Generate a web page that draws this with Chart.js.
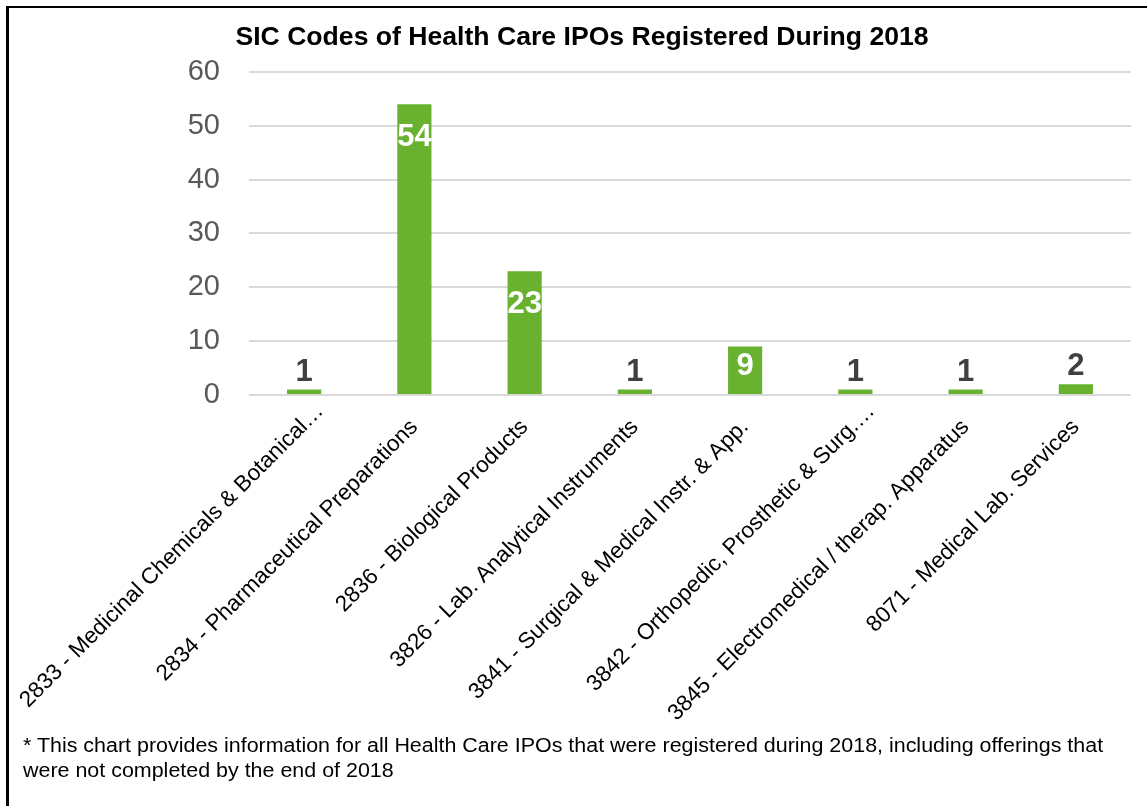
<!DOCTYPE html>
<html>
<head>
<meta charset="utf-8">
<script src="https://cdn.jsdelivr.net/npm/chart.js@4/dist/chart.umd.min.js"></script>
<style>
html,body{margin:0;padding:0;background:#fff;width:1147px;height:806px;overflow:hidden;}
#wrap{position:relative;width:1147px;height:806px;}
#frame{position:absolute;left:6px;top:6px;right:-10px;bottom:-10px;border-top:2px solid #000;border-left:3px solid #000;}
canvas{position:absolute;left:0;top:0;}
#note{position:absolute;left:23px;top:733px;font-family:"Liberation Sans",Arial,sans-serif;font-size:20px;line-height:25px;color:#000;white-space:nowrap;transform:scaleX(1.072);transform-origin:0 0;}
</style>
</head>
<body>
<div id="wrap">
  <div id="frame"></div>
  <canvas id="c" width="1147" height="806"></canvas>
  <div id="note">* This chart provides information for all Health Care IPOs that were registered during 2018, including offerings that<br>were not completed by the end of 2018</div>
</div>
<script>
const chartTitle = 'SIC Codes of Health Care IPOs Registered During 2018';
const categories = [
  '2833 - Medicinal Chemicals & Botanical\u2026',
  '2834 - Pharmaceutical Preparations',
  '2836 - Biological Products',
  '3826 - Lab. Analytical Instruments',
  '3841 - Surgical & Medical Instr. & App.',
  '3842 - Orthopedic, Prosthetic & Surg.\u2026',
  '3845 - Electromedical / therap. Apparatus',
  '8071 - Medical Lab. Services'
];
const ipoCounts = [1, 54, 23, 1, 9, 1, 1, 2];
const yTickValues = [0, 10, 20, 30, 40, 50, 60];

const FONT = '"Liberation Sans", Arial, sans-serif';
const X_FONT_SIZE = 22.5;

// Truncated labels: the ellipsis hangs past the anchor point, as in the original.
const ellipsisOverhang = {
  id: 'ellipsisOverhang',
  beforeDraw(chart) {
    const scale = chart.scales.x;
    const items = scale.getLabelItems();
    if (!items || items._shifted) return;
    const ctx = chart.ctx;
    ctx.save();
    ctx.font = X_FONT_SIZE + 'px ' + FONT;
    const w = ctx.measureText('\u2026').width;
    ctx.restore();
    items.forEach(it => {
      if (typeof it.label === 'string' && it.label.endsWith('\u2026')) {
        const r = it.options.rotation;
        it.options.translation = [
          it.options.translation[0] + w * Math.cos(r),
          it.options.translation[1] + w * Math.sin(r)
        ];
      }
    });
    items._shifted = true;
  }
};

const valueLabels = {
  id: 'valueLabels',
  afterDatasetsDraw(chart) {
    const ctx = chart.ctx;
    const meta = chart.getDatasetMeta(0);
    const data = chart.data.datasets[0].data;
    ctx.save();
    ctx.font = 'bold 31px ' + FONT;
    ctx.textAlign = 'center';
    ctx.textBaseline = 'alphabetic';
    meta.data.forEach((bar, i) => {
      const h = bar.base - bar.y;
      const txt = String(data[i]);
      if (h > 40) {
        ctx.fillStyle = '#ffffff';
        ctx.fillText(txt, bar.x, bar.y + Math.min(42, h - 19));
      } else {
        ctx.fillStyle = '#404040';
        ctx.fillText(txt, bar.x, bar.y - 9);
      }
    });
    ctx.restore();
  }
};

new Chart(document.getElementById('c'), {
  type: 'bar',
  data: {
    labels: categories,
    datasets: [{
      data: ipoCounts,
      backgroundColor: '#69B22F',
      borderWidth: 0,
      barPercentage: 0.31,
      categoryPercentage: 1
    }]
  },
  options: {
    responsive: false,
    animation: false,
    layout: { padding: { left: 33, right: 16, top: 22, bottom: 71 } },
    plugins: {
      legend: { display: false },
      tooltip: { enabled: false },
      title: {
        display: true,
        text: chartTitle,
        color: '#000',
        font: { family: FONT, size: 26.6, weight: 'bold' },
        padding: { top: 0, bottom: 18 }
      }
    },
    scales: {
      x: {
        grid: { display: false },
        border: { display: false },
        ticks: {
          autoSkip: false,
          maxRotation: 45,
          minRotation: 45,
          padding: 11,
          labelOffset: 0,
          color: '#000',
          font: { family: FONT, size: X_FONT_SIZE }
        },
        afterFit(scale) {
          scale.height = 340;
          scale.paddingLeft = 0;
          scale.paddingRight = 0;
        }
      },
      y: {
        min: 0,
        max: 60,
        grid: { color: '#d9d9d9', lineWidth: 2, drawTicks: false },
        border: { display: false },
        ticks: {
          padding: 29,
          color: '#595959',
          font: { family: FONT, size: 29 }
        },
        afterBuildTicks(scale) {
          scale.ticks = yTickValues.map(v => ({ value: v }));
        },
        afterFit(scale) {
          scale.width = 216;
        }
      }
    }
  },
  plugins: [ellipsisOverhang, valueLabels]
});
</script>
</body>
</html>
